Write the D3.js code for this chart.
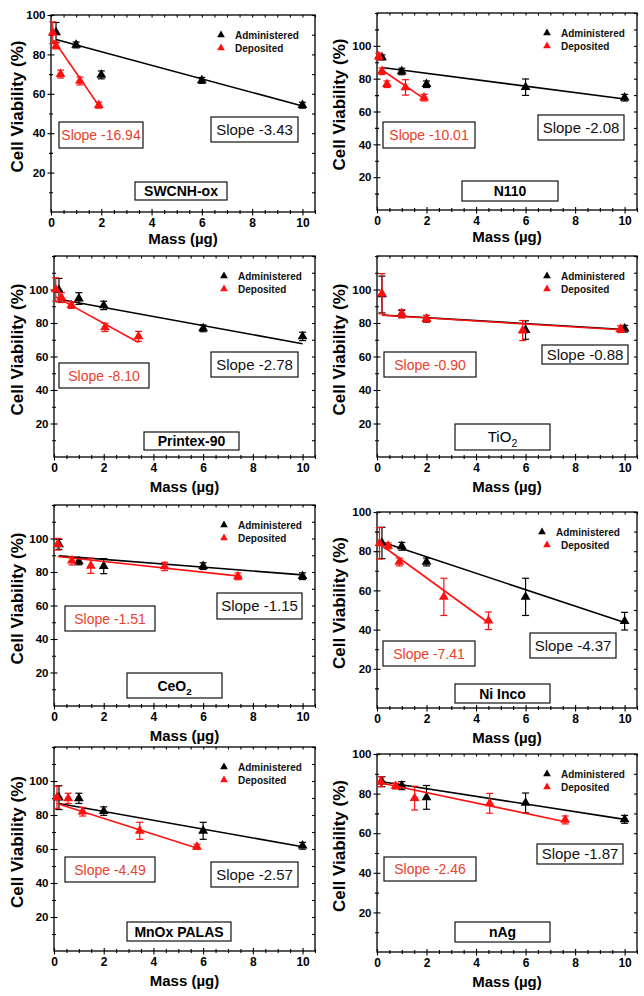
<!DOCTYPE html>
<html><head><meta charset="utf-8">
<script src="https://cdn.jsdelivr.net/npm/d3@7"></script>
<style>body{margin:0;background:#fff}svg{display:block}</style>
</head><body>
<svg id="chart" width="644" height="996"></svg>
<script>
// ---------- DATA ----------
const panelNames = ["SWCNH-ox", "N110", "Printex-90", "TiO2", "CeO2", "Ni Inco", "MnOx PALAS", "nAg"];
const adminSlopeLabels = ["Slope -3.43", "Slope -2.08", "Slope -2.78", "Slope -0.88", "Slope -1.15", "Slope -4.37", "Slope -2.57", "Slope -1.87"];
const depSlopeLabels = ["Slope -16.94", "Slope -10.01", "Slope -8.10", "Slope -0.90", "Slope -1.51", "Slope -7.41", "Slope -4.49", "Slope -2.46"];
const yMaxes = [100, 120, 120, 120, 120, 100, 120, 100];
const xTicks = [0, 2, 4, 6, 8, 10];
const yTicks = [20, 40, 60, 80, 100];
const seriesNames = ["Administered", "Deposited"];

const adminX = [
  [0.2, 1, 2, 6, 10], [0.2, 1, 2, 6, 10], [0.2, 1, 2, 6, 10], [0.2, 1, 2, 6, 10],
  [0.2, 1, 2, 6, 10], [0.2, 1, 2, 6, 10], [0.2, 1, 2, 6, 10], [0.2, 1, 2, 6, 10]
];
const adminY = [
  [91.2, 84.8, 69.6, 66.8, 54.2],
  [93.0, 84.4, 76.6, 74.8, 68.4],
  [99.6, 94.6, 90.5, 76.8, 72.0],
  [97.0, 85.5, 82.5, 75.8, 76.6],
  [96.5, 86.3, 83.5, 83.5, 77.5],
  [84.2, 82.5, 74.5, 56.7, 44.3],
  [90.2, 89.8, 82.3, 70.7, 61.9],
  [86.0, 84.0, 78.1, 75.3, 67.0]
];
const adminErr = [
  [5, 1.5, 2, 1.5, 1.5],
  [1.5, 2, 2, 5, 2],
  [7, 3.5, 2.5, 2, 2.5],
  [11, 2, 2, 5.5, 2],
  [3, 2, 4.5, 2, 2],
  [8, 2, 2, 9.5, 4.5],
  [7, 3, 2.5, 5, 2],
  [2.5, 2, 6, 5, 2]
];
const depX = [
  [0.07, 0.2, 0.38, 1.15, 1.9],
  [0.07, 0.2, 0.4, 1.15, 1.9],
  [0.07, 0.3, 0.7, 2.05, 3.4],
  [0.2, 1, 2, 5.88, 9.83],
  [0.15, 0.72, 1.48, 4.45, 7.4],
  [0.1, 0.45, 0.9, 2.7, 4.5],
  [0.12, 0.57, 1.15, 3.45, 5.75],
  [0.15, 0.75, 1.52, 4.55, 7.6]
];
const depY = [
  [91.0, 84.3, 70.0, 66.5, 54.2],
  [93.5, 84.5, 76.6, 74.7, 68.4],
  [100.0, 95.2, 90.7, 77.4, 72.0],
  [97.5, 85.5, 82.5, 75.5, 76.3],
  [96.6, 86.7, 83.7, 83.3, 77.4],
  [84.0, 82.7, 74.5, 56.7, 44.5],
  [90.4, 89.8, 81.9, 70.7, 61.3],
  [86.0, 83.8, 77.7, 75.1, 66.7]
];
const depErr = [
  [5.5, 1.5, 2, 2, 1.5],
  [2, 2, 2, 4.7, 2],
  [7, 3, 2, 2.5, 3],
  [12, 2.5, 2, 6, 2],
  [3.5, 2.5, 4.5, 2.5, 2],
  [8, 1.5, 2, 9.5, 4.5],
  [6.5, 3, 2.5, 5, 1.5],
  [2.5, 1.5, 6, 5, 2]
];
// fitted lines: [x start, y start, x end, y end]
const adminFit = [
  [0.2, 87.6, 10, 53.8], [0.2, 86.8, 10, 67.6], [0.2, 94.2, 10, 67.6], [0.2, 84.8, 10, 76.1],
  [0.2, 89.6, 10, 78.3], [0.2, 84.7, 10, 43.6], [0.2, 86.8, 10, 61.3], [0.2, 86.0, 10, 67.0]
];
const depFit = [
  [0.1, 87.3, 1.9, 54.0], [0.2, 85.3, 1.9, 67.8], [0.07, 95.6, 3.4, 68.4], [0.2, 84.6, 10, 75.8],
  [0.15, 89.3, 7.55, 77.4], [0.1, 83.8, 4.5, 43.5], [0.12, 86.8, 5.8, 60.3], [0.15, 85.4, 7.6, 65.8]
];

// ---------- LAYOUT ----------
const plotBoxes = [[51,15,315,212],[377,13,637,210],[54,256,315,457],[377,256,637,457],
                   [54,505,315,706],[377,512,637,708],[54,747,315,951],[377,754,637,952]];
const redBoxes = [[59,122,84,26],[383,122,92,26],[59,363,90,25],[384,352,92,25],
                  [65,606,90,25],[383,641,92,25],[65,857,90,25],[384,857,92,24]];
const blackBoxes = [[211,117,87,25],[538,115,86,25],[211,352,87,25],[542,345,86,19],
                    [217,593,85,26],[530,633,86,25],[211,862,87,25],[537,844,86,20]];
const nameBoxes = [[135,182,92,18],[462,181,96,20],[144,432,95,18],[455,424,95,26],
                   [127,673,95,25],[455,684,95,19],[127,922,104,19],[455,922,95,20]];

const RED = "#ff1010", BLACK = "#000", RED_TEXT = "#e8412c";
const FONT = "'Liberation Sans', Arial, Helvetica, sans-serif";
const svg = d3.select("#chart");
svg.append("rect").attr("width", 644).attr("height", 996).attr("fill", "#fff");

const tri = d3.symbol().type(d3.symbolTriangle);

panelNames.forEach((name, i) => {
  const [L, T, R, B] = plotBoxes[i];
  const col = i % 2, cellX = col * 322;
  const row = Math.floor(i / 2);
  const x = d3.scaleLinear().domain([0, 10.5]).range([L, R]);
  const y = d3.scaleLinear().domain([0, yMaxes[i]]).range([B, T]);
  const g = svg.append("g");

  const xMinor = d3.range(0, 10.51, 0.5).filter(v => !xTicks.includes(v));
  const yMinor = d3.range(10, yMaxes[i] + 0.1, 10).filter(v => !yTicks.includes(v));
  const yMajorAll = yTicks.filter(v => v <= yMaxes[i]);

  const styleAxis = sel => {
    sel.select(".domain").remove();
    sel.selectAll("line").attr("stroke", "#000").attr("stroke-width", 1.1);
    sel.selectAll("text").attr("font-family", FONT).attr("font-weight", "bold").attr("fill", "#000");
  };
  // left axis: crossing ticks
  g.append("g").attr("transform", `translate(${L},0)`)
    .call(d3.axisLeft(y).tickValues(yMajorAll).tickSize(3.5).tickPadding(2).tickFormat(d3.format("d")))
    .call(styleAxis).call(s => s.selectAll("text").attr("font-size", 11.5));
  g.append("g").attr("transform", `translate(${L},0)`)
    .call(d3.axisLeft(y).tickValues(yMajorAll).tickSize(-3.5).tickFormat(""))
    .call(styleAxis);
  g.append("g").attr("transform", `translate(${L},0)`)
    .call(d3.axisLeft(y).tickValues(yMinor).tickSize(2).tickFormat(""))
    .call(styleAxis);
  g.append("g").attr("transform", `translate(${L},0)`)
    .call(d3.axisLeft(y).tickValues(yMinor).tickSize(-2).tickFormat(""))
    .call(styleAxis);
  // right axis: inward ticks
  g.append("g").attr("transform", `translate(${R},0)`)
    .call(d3.axisRight(y).tickValues(yMajorAll.concat(yMinor)).tickSize(-3).tickFormat(""))
    .call(styleAxis);
  // bottom axis: crossing ticks
  g.append("g").attr("transform", `translate(0,${B})`)
    .call(d3.axisBottom(x).tickValues(xTicks).tickSize(3.5).tickPadding(3).tickFormat(d3.format("d")))
    .call(styleAxis).call(s => s.selectAll("text").attr("font-size", 12));
  g.append("g").attr("transform", `translate(0,${B})`)
    .call(d3.axisBottom(x).tickValues(xTicks).tickSize(-3).tickFormat(""))
    .call(styleAxis);
  g.append("g").attr("transform", `translate(0,${B})`)
    .call(d3.axisBottom(x).tickValues(xMinor).tickSize(2).tickFormat(""))
    .call(styleAxis);
  g.append("g").attr("transform", `translate(0,${B})`)
    .call(d3.axisBottom(x).tickValues(xMinor).tickSize(-2).tickFormat(""))
    .call(styleAxis);
  // top axis: inward ticks
  g.append("g").attr("transform", `translate(0,${T})`)
    .call(d3.axisTop(x).tickValues(xTicks.concat(xMinor)).tickSize(-2.5).tickFormat(""))
    .call(styleAxis);
  // frame
  g.append("rect").attr("x", L).attr("y", T).attr("width", R - L).attr("height", B - T)
    .attr("fill", "none").attr("stroke", "#000").attr("stroke-width", 1.3);

  // axis titles
  g.append("text")
    .attr("transform", `translate(${cellX + 23},${(T + B) / 2 - 7}) rotate(-90)`)
    .attr("text-anchor", "middle").attr("font-family", FONT).attr("font-weight", "bold")
    .attr("font-size", 17).text("Cell Viability (%)");
  g.append("text")
    .attr("x", (L + R) / 2).attr("y", B + (row === 0 ? 32 : 35))
    .attr("text-anchor", "middle").attr("font-family", FONT).attr("font-weight", "bold")
    .attr("font-size", 15).text("Mass (\u00b5g)");

  // boxes
  const drawBox = (bx, color, label, size, weight) => {
    const [bx0, by0, bw, bh] = bx;
    g.append("rect").attr("x", bx0).attr("y", by0).attr("width", bw).attr("height", bh)
      .attr("fill", "#fff").attr("stroke", "#111").attr("stroke-width", 1.2);
    const t = g.append("text").attr("x", bx0 + bw / 2).attr("y", by0 + bh / 2 + size * 0.36)
      .attr("text-anchor", "middle").attr("font-family", FONT).attr("font-weight", weight)
      .attr("font-size", size).attr("fill", color);
    const m = label.match(/^(.*O)2$/);
    if (m) {
      t.append("tspan").text(m[1]);
      t.append("tspan").attr("font-size", size * 0.7).attr("dy", size * 0.3).text("2");
    } else t.text(label);
  };
  drawBox(redBoxes[i], RED_TEXT, depSlopeLabels[i], 14, "normal");
  drawBox(blackBoxes[i], "#111", adminSlopeLabels[i], 15, "normal");
  drawBox(nameBoxes[i], "#000", name, name === "TiO2" ? 15 : 14, name === "TiO2" ? "normal" : "bold");

  // series
  const series = [
    {xs: adminX[i], ys: adminY[i], es: adminErr[i], fit: adminFit[i], color: BLACK},
    {xs: depX[i], ys: depY[i], es: depErr[i], fit: depFit[i], color: RED}
  ];
  series.forEach(s => {
    g.append("line")
      .attr("x1", x(s.fit[0])).attr("y1", y(s.fit[1]))
      .attr("x2", x(s.fit[2])).attr("y2", y(s.fit[3]))
      .attr("stroke", s.color).attr("stroke-width", 1.6);
    const pts = s.xs.map((v, k) => ({x: v, y: s.ys[k], e: s.es[k]}));
    const eb = g.append("g").attr("stroke", s.color).attr("stroke-width", 1.2);
    pts.forEach(p => {
      const cx = x(p.x), y1 = y(p.y + p.e), y2 = y(p.y - p.e);
      eb.append("line").attr("x1", cx).attr("x2", cx).attr("y1", y1).attr("y2", y2);
      eb.append("line").attr("x1", cx - 3.5).attr("x2", cx + 3.5).attr("y1", y1).attr("y2", y1);
      eb.append("line").attr("x1", cx - 3.5).attr("x2", cx + 3.5).attr("y1", y2).attr("y2", y2);
    });
    g.selectAll(null).data(pts).enter().append("path")
      .attr("d", tri.size(42)())
      .attr("transform", d => `translate(${x(d.x)},${y(d.y)})`)
      .attr("fill", s.color);
  });

  // legend
  const lx = L + (i === 5 ? 165 : 170);
  [[lx, T + 20, BLACK, seriesNames[0]], [L + 170, T + 33, RED, seriesNames[1]]].forEach(([px, py, c, lab], k) => {
    g.append("path").attr("d", tri.size(26)()).attr("transform", `translate(${px},${py})`).attr("fill", c);
    g.append("text").attr("x", px + 14).attr("y", py + 4).attr("font-family", FONT)
      .attr("font-weight", "bold").attr("font-size", 10).attr("fill", "#111").text(lab);
  });
});
</script>
</body></html>
